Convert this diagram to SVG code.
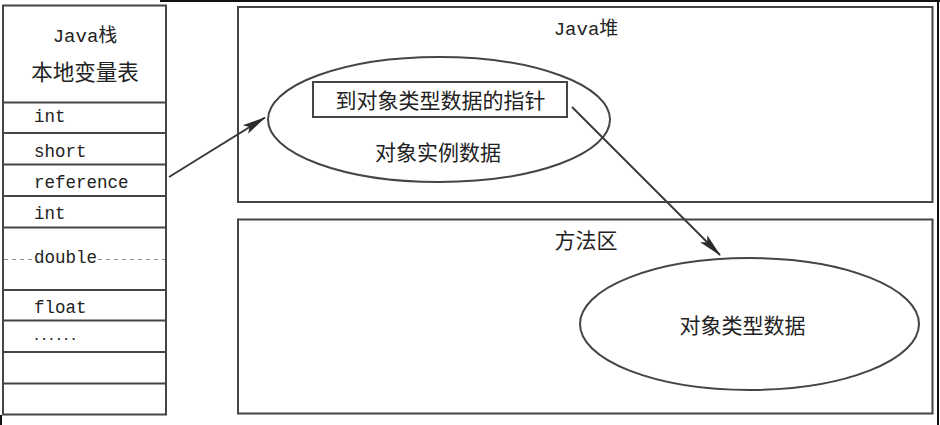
<svg xmlns="http://www.w3.org/2000/svg" width="940" height="425" viewBox="0 0 940 425">
  <style>
    .box { fill: #ffffff; stroke: #454545; stroke-width: 2; }
    .thin { fill: none; stroke: #454545; stroke-width: 1.8; }
    .dash { fill: none; stroke: #8a8a8a; stroke-width: 1; stroke-dasharray: 4 4; }
    .mono { font-family: "Liberation Mono", "DejaVu Sans Mono", monospace; font-size: 17.5px; fill: #222222; }
    .dots { font-family: "Liberation Mono", "DejaVu Sans Mono", monospace; font-size: 17.5px; font-weight: bold; fill: #222222; }
    .cjk { font-family: "Noto Sans CJK SC", "Noto Sans", sans-serif; font-size: 21px; fill: #222222; }
    .mix { font-family: "Liberation Mono", "Noto Sans CJK SC", monospace; font-size: 19px; fill: #222222; }
    .conn { fill: none; stroke: #3a3a3a; stroke-width: 2; }
    .frame { stroke: #111111; stroke-width: 2; fill: none; }
  </style>
  <defs>
    <marker id="arrow" viewBox="0 0 24 12" refX="23" refY="6" markerWidth="24" markerHeight="12" markerUnits="userSpaceOnUse" orient="auto">
      <path d="M0,1 L24,6 L0,11 L5,6 Z" fill="#2a2a2a"/>
    </marker>
  </defs>

  <rect x="0" y="0" width="940" height="425" fill="#ffffff"/>

  <!-- screenshot frame fragments -->
  <g id="frame">
    <line class="frame" x1="160" y1="1" x2="940" y2="1"/>
    <line class="frame" x1="938" y1="0" x2="938" y2="425"/>
    <line class="frame" x1="1" y1="415" x2="1" y2="425"/>
  </g>

  <!-- Java stack: local variable table -->
  <g id="java-stack">
    <rect class="box" x="3" y="5.5" width="163" height="409"/>
    <text class="mix" x="85" y="42" text-anchor="middle">Java栈</text>
    <text class="cjk" x="85" y="80" text-anchor="middle" style="font-size:21.5px">本地变量表</text>
    <line class="thin" x1="3" y1="102.5" x2="166" y2="102.5"/>
    <line class="thin" x1="3" y1="133" x2="166" y2="133"/>
    <line class="thin" x1="3" y1="164.5" x2="166" y2="164.5"/>
    <line class="thin" x1="3" y1="196" x2="166" y2="196"/>
    <line class="thin" x1="3" y1="227.5" x2="166" y2="227.5"/>
    <line class="thin" x1="3" y1="290" x2="166" y2="290"/>
    <line class="thin" x1="3" y1="320.5" x2="166" y2="320.5"/>
    <line class="thin" x1="3" y1="352" x2="166" y2="352"/>
    <line class="thin" x1="3" y1="383.5" x2="166" y2="383.5"/>
    <line class="dash" x1="4" y1="259.5" x2="32" y2="259.5"/>
    <line class="dash" x1="98" y1="259.5" x2="165" y2="259.5"/>
    <text class="mono" x="34" y="122">int</text>
    <text class="mono" x="34" y="157">short</text>
    <text class="mono" x="34" y="188">reference</text>
    <text class="mono" x="34" y="219">int</text>
    <text class="mono" x="34" y="263">double</text>
    <text class="mono" x="34" y="313">float</text>
    <text class="dots" x="33" y="340" style="font-size:12px;letter-spacing:0.2px">......</text>
  </g>

  <!-- Java heap -->
  <g id="java-heap">
    <rect class="box" x="238" y="7" width="694.5" height="195"/>
    <text class="mix" x="586" y="35" text-anchor="middle">Java堆</text>
  </g>

  <g id="instance-data">
    <ellipse class="box" cx="439" cy="119.5" rx="171" ry="62.5"/>
    <text class="cjk" x="438" y="160" text-anchor="middle">对象实例数据</text>
  </g>

  <g id="type-pointer">
    <rect class="box" x="313" y="82" width="254" height="35"/>
    <text class="cjk" x="440.5" y="107.5" text-anchor="middle">到对象类型数据的指针</text>
  </g>

  <!-- Method area -->
  <g id="method-area">
    <rect class="box" x="238" y="219.5" width="694.5" height="194"/>
    <text class="cjk" x="586" y="248" text-anchor="middle">方法区</text>
  </g>

  <g id="type-data">
    <ellipse class="box" cx="749.5" cy="324" rx="169.5" ry="66"/>
    <text class="cjk" x="742.5" y="332.5" text-anchor="middle">对象类型数据</text>
  </g>

  <!-- connectors -->
  <g id="connectors">
    <line class="conn" x1="169" y1="177" x2="265" y2="117.5" marker-end="url(#arrow)"/>
    <line class="conn" x1="572" y1="107" x2="720" y2="255" marker-end="url(#arrow)"/>
  </g>
</svg>
